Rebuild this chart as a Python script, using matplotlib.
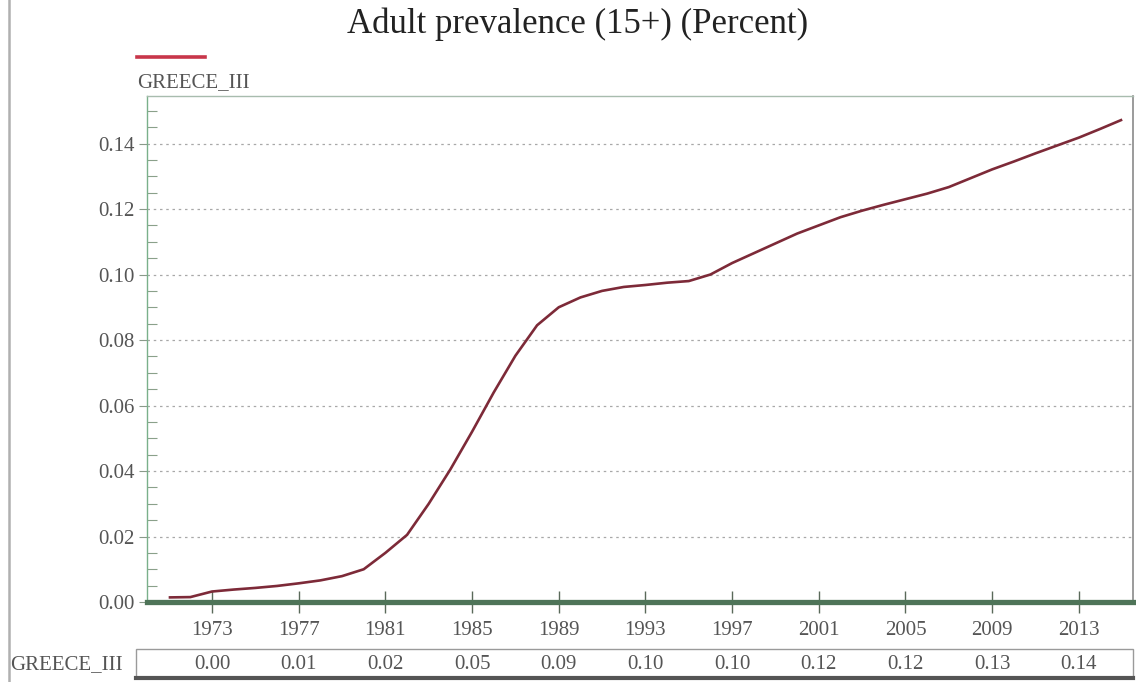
import matplotlib
matplotlib.use("Agg")
import matplotlib.pyplot as plt
import matplotlib.transforms as mtransforms
from matplotlib.patches import Rectangle
from matplotlib.lines import Line2D
import numpy as np

years = list(range(1971, 2016))
prevalence = [0.0014, 0.0015, 0.0032, 0.0038, 0.0043, 0.0049, 0.0057, 0.0066,
              0.0079, 0.0100, 0.0150, 0.0205, 0.0300, 0.0405, 0.0520, 0.0640,
              0.0752, 0.0845, 0.0900, 0.0930, 0.0950, 0.0962, 0.0968, 0.0975,
              0.0980, 0.1000, 0.1035, 0.1065, 0.1095, 0.1125, 0.1150, 0.1175,
              0.1195, 0.1213, 0.1230, 0.1247, 0.1267, 0.1294, 0.1321, 0.1345,
              0.1370, 0.1394, 0.1418, 0.1445, 0.1473]
tick_years = [1973, 1977, 1981, 1985, 1989, 1993, 1997, 2001, 2005, 2009, 2013]
table_values = ["0.00", "0.01", "0.02", "0.05", "0.09", "0.10", "0.10",
                "0.12", "0.12", "0.13", "0.14"]
series_name = "GREECE_III"
title = "Adult prevalence (15+) (Percent)"

serif = ["Liberation Serif", "DejaVu Serif"]
plt.rcParams['font.family'] = serif

fig = plt.figure(figsize=(11.36, 6.82), dpi=100)
ax = fig.add_axes([0.1294, 0.1173, 0.868, 0.7419])

ax.plot(years, prevalence, color="#7d2a38", lw=1.9, solid_capstyle="butt")

ax.set_xlim(1970, 2015.5)
ax.set_ylim(0, 0.1545)
ax.set_xticks(tick_years)
ax.set_xticklabels([str(y) for y in tick_years])
ax.set_yticks(np.arange(0, 0.141, 0.02))
ax.set_yticks(np.arange(0, 0.155, 0.005), minor=True)
ax.yaxis.set_major_formatter(matplotlib.ticker.FormatStrFormatter('%.2f'))

for yv in np.arange(0.02, 0.141, 0.02):
    ax.axhline(yv, color="#a8a8a8", lw=0.9, ls=(0, (2, 3)), zorder=0)

ax.tick_params(axis='x', direction='inout', length=16, width=1.0,
               color="#5a6a5a", labelsize=15, labelcolor="#555555", pad=6)
ax.tick_params(axis='y', which='major', direction='out', length=6, width=0.8,
               color="#8a9a8a", labelsize=15, labelcolor="#555555", pad=3)
ax.tick_params(axis='y', which='minor', direction='in', length=7, width=0.8,
               color="#8aa08a")

ax.spines['bottom'].set_color("#4e7458")
ax.spines['bottom'].set_linewidth(3.8)
ax.spines['left'].set_color("#7ab08a")
ax.spines['left'].set_linewidth(1.0)
ax.spines['top'].set_color("#a8bcae")
ax.spines['top'].set_linewidth(1.0)
ax.spines['right'].set_color("#8a8a8a")
ax.spines['right'].set_linewidth(1.2)

# title and legend
fig.text(0.508, 0.965, title, ha='center', va='center', fontsize=25, color="#222222")
fig.add_artist(Line2D([0.1206, 0.1805], [0.9165, 0.9165], transform=fig.transFigure,
                      color="#c8364a", lw=2.6))
fig.text(0.1206, 0.879, series_name, ha='left', va='center', fontsize=15, color="#555555")

# data table under the chart
fig.add_artist(Rectangle((0.1197, 0.006), 0.8777, 0.043, transform=fig.transFigure,
                         fill=False, edgecolor="#9a9a9a", lw=1.0))
fig.add_artist(Line2D([0.1197, 0.9974], [0.006, 0.006], transform=fig.transFigure,
                      color="#555555", lw=3))
fig.text(0.009, 0.025, series_name, ha='left', va='center', fontsize=15, color="#555555")
trans = mtransforms.blended_transform_factory(ax.transData, fig.transFigure)
for yr, val in zip(tick_years, table_values):
    ax.text(yr, 0.025, val, transform=trans, ha='center', va='center',
            fontsize=15, color="#555555", clip_on=False)

# faint frame line at the far left
fig.add_artist(Line2D([0.0075, 0.0075], [0.0, 1.0], transform=fig.transFigure,
                      color="#b0b0b0", lw=1.8))

fig.savefig("out.png", dpi=100)
